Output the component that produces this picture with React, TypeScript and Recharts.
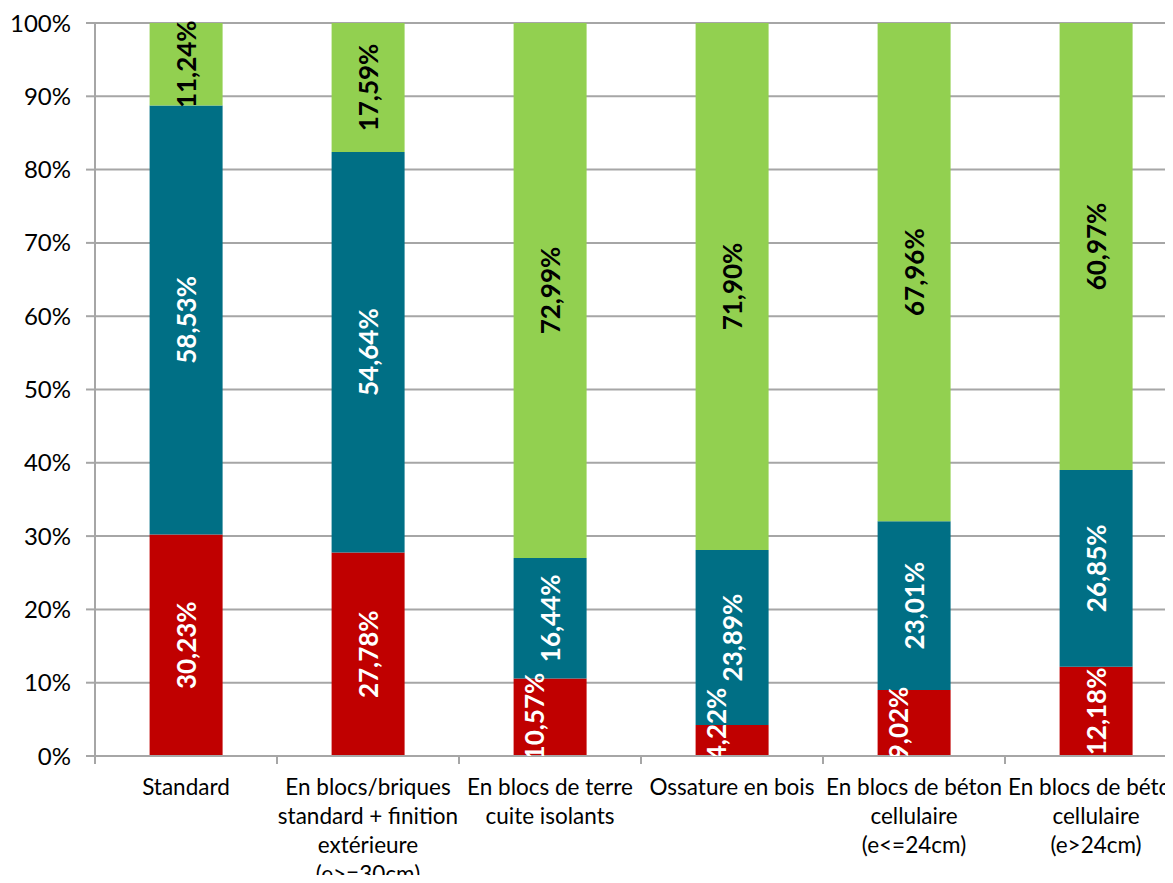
import React from 'react';
import { BarChart, Bar, XAxis, YAxis, CartesianGrid, LabelList } from 'recharts';

const categories = [
  'Standard',
  'En blocs/briques standard + finition extérieure (e>=30cm)',
  'En blocs de terre cuite isolants',
  'Ossature en bois',
  'En blocs de béton cellulaire (e<=24cm)',
  'En blocs de béton cellulaire (e>24cm)',
];

// wrapped lines as in the picture
const categoryLines = [
  ['Standard'],
  ['En blocs/briques', 'standard + finition', 'extérieure', '(e>=30cm)'],
  ['En blocs de terre', 'cuite isolants'],
  ['Ossature en bois'],
  ['En blocs de béton', 'cellulaire', '(e<=24cm)'],
  ['En blocs de béton', 'cellulaire', '(e>24cm)'],
];

const rouge = [30.23, 27.78, 10.57, 4.22, 9.02, 12.18];
const bleu = [58.53, 54.64, 16.44, 23.89, 23.01, 26.85];
const vert = [11.24, 17.59, 72.99, 71.9, 67.96, 60.97];

const yTicks = [0, 0.1, 0.2, 0.3, 0.4, 0.5, 0.6, 0.7, 0.8, 0.9, 1];

const data = categories.map((name, i) => ({
  name,
  rouge: rouge[i],
  bleu: bleu[i],
  vert: vert[i],
}));

const FONT = 'Lato, "Open Sans", "Noto Sans", sans-serif';
const GRID = '#A6A6A6';
const W = 1200;
const H = 883;
const MARGIN = { top: 23, right: 13, left: 0, bottom: 0 };
const LABEL_FS = 26;

const fmt = (v: number) => v.toFixed(2).replace('.', ',') + '%';

// label centred in its segment; a label longer than a bottom segment is
// pushed up to stay on the plot and nudged left, like Excel does
function makeLabel(color: string, bottom?: boolean) {
  return (props: any) => {
    const { x, y, width, height, value } = props;
    const txt = fmt(Number(value));
    const len = txt.length * 0.57 * LABEL_FS;
    let cx = Number(x) + Number(width) / 2;
    let cy = Number(y) + Number(height) / 2;
    if (bottom && len > Number(height)) {
      const base = Number(y) + Number(height);
      cy = Math.min(cy, base + 5 - len / 2);
      cx -= 16;
    }
    return (
      <text
        x={cx}
        y={cy}
        transform={`rotate(-90 ${cx} ${cy})`}
        textAnchor="middle"
        dominantBaseline="central"
        fill={color}
        fontFamily={FONT}
        fontWeight="bold"
        fontSize={LABEL_FS}
      >
        {txt}
      </text>
    );
  };
}

function CategoryTick(props: any) {
  const { x, y, payload, index, width } = props;
  const step = (Number(width) || 1092) / categories.length;
  const lines = categoryLines[index] || [String(payload.value)];
  const left = x - step / 2;
  return (
    <g>
      <line x1={left} y1={y - 8} x2={left} y2={y} stroke={GRID} strokeWidth={2} />
      {index === categories.length - 1 && (
        <line x1={x + step / 2} y1={y - 8} x2={x + step / 2} y2={y} stroke={GRID} strokeWidth={2} />
      )}
      <text textAnchor="middle" fontFamily={FONT} fontSize={22.5} fill="#000">
        {lines.map((l, k) => (
          <tspan key={k} x={x} y={y + 31 + k * 29}>
            {l}
          </tspan>
        ))}
      </text>
    </g>
  );
}

export default function App() {
  return (
    <div style={{ margin: -8, width: 1173, height: H, overflow: 'hidden', background: '#fff', position: 'relative' }}>
      <BarChart
        width={W}
        height={H}
        data={data}
        stackOffset="expand"
        barCategoryGap="30%"
        margin={MARGIN}
      >
        <CartesianGrid vertical={false} stroke={GRID} strokeWidth={2} />
        <XAxis
          dataKey="name"
          interval={0}
          height={127}
          axisLine={{ stroke: GRID, strokeWidth: 2 }}
          tickLine={false}
          tickSize={8}
          tickMargin={0}
          tick={<CategoryTick />}
        />
        <YAxis
          width={95}
          domain={[0, 1]}
          ticks={yTicks}
          tickFormatter={(v: number) => `${Math.round(v * 100)}%`}
          axisLine={{ stroke: GRID, strokeWidth: 2 }}
          tickLine={{ stroke: GRID, strokeWidth: 2 }}
          tickSize={9}
          tickMargin={15}
          tick={{ fill: '#000', fontSize: 24, fontFamily: FONT }}
        />
        <Bar dataKey="rouge" stackId="a" fill="#C00000" isAnimationActive={false} />
        <Bar dataKey="bleu" stackId="a" fill="#006F85" isAnimationActive={false} />
        <Bar dataKey="vert" stackId="a" fill="#92D050" isAnimationActive={false} />
      </BarChart>

      {/* labels layer on top of every segment, clipped at the plot bottom */}
      <div style={{ position: 'absolute', left: 0, top: 0, width: 1173, height: 756, overflow: 'hidden' }}>
        <BarChart
          width={W}
          height={H}
          data={data}
          stackOffset="expand"
          barCategoryGap="30%"
          margin={MARGIN}
        >
          <XAxis dataKey="name" interval={0} height={127} axisLine={false} tickLine={false} tick={false} />
          <YAxis width={95} domain={[0, 1]} ticks={yTicks} axisLine={false} tickLine={false} tick={false} />
          <Bar dataKey="rouge" stackId="a" fill="none" isAnimationActive={false}>
            <LabelList dataKey="rouge" content={makeLabel('#fff', true)} />
          </Bar>
          <Bar dataKey="bleu" stackId="a" fill="none" isAnimationActive={false}>
            <LabelList dataKey="bleu" content={makeLabel('#fff')} />
          </Bar>
          <Bar dataKey="vert" stackId="a" fill="none" isAnimationActive={false}>
            <LabelList dataKey="vert" content={makeLabel('#000')} />
          </Bar>
        </BarChart>
      </div>
    </div>
  );
}
